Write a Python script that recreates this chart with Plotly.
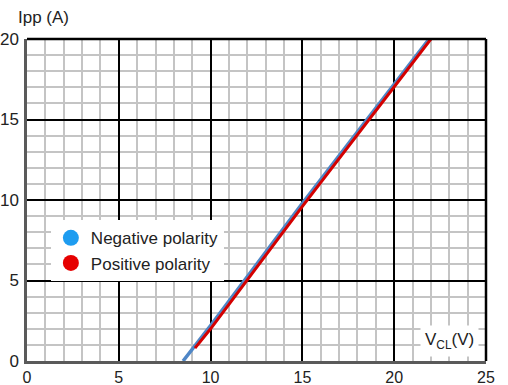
import plotly.graph_objects as go

# clamping voltage V_CL (V) vs peak pulse current Ipp (A)
neg_vcl = [8.5, 10.0, 15.0, 20.0, 21.9]
neg_ipp = [0.0, 2.2, 9.8, 17.2, 20.0]
pos_vcl = [9.15, 10.0, 15.0, 20.0, 22.0]
pos_ipp = [0.8, 2.0, 9.6, 17.0, 20.0]

legend_names = ["Negative polarity", "Positive polarity"]
legend_colors = ["#1e9cf0", "#e60000"]

x_ticks = [0, 5, 10, 15, 20, 25]
y_ticks = [0, 5, 10, 15, 20]

FONT = "Liberation Sans, Arial, sans-serif"

fig = go.Figure()

fig.add_trace(go.Scatter(
    x=neg_vcl, y=neg_ipp, mode="lines",
    line=dict(color="#4f86c6", width=3.5), showlegend=False,
))
fig.add_trace(go.Scatter(
    x=pos_vcl, y=pos_ipp, mode="lines",
    line=dict(color="#d40000", width=3), showlegend=False,
))

# legend entries shown as filled circles
for name, color in zip(legend_names, legend_colors):
    fig.add_trace(go.Scatter(
        x=[None], y=[None], mode="markers", name=name,
        marker=dict(color=color, size=16),
    ))

axis_common = dict(
    showgrid=True,
    gridcolor="black",
    gridwidth=2,
    zeroline=False,
    showline=True,
    linecolor="#5a5a5a",
    linewidth=2.5,
    ticks="",
    automargin=False,
    minor=dict(dtick=1, showgrid=True, gridcolor="#c4c4c4", gridwidth=2),
)

fig.update_xaxes(range=[0, 25], tickvals=x_ticks, ticklabelstandoff=0,
                 tickfont=dict(family=FONT, size=16, color="#222"), **axis_common)
fig.update_yaxes(range=[0, 20], tickvals=y_ticks, ticklabelstandoff=2,
                 tickfont=dict(family=FONT, size=17, color="#222"), **axis_common)

# black frame on top and right
fig.add_shape(type="line", xref="paper", yref="paper", x0=0, x1=1, y0=1, y1=1,
              line=dict(color="black", width=2.5))
fig.add_shape(type="line", xref="paper", yref="paper", x0=1, x1=1, y0=0, y1=1,
              line=dict(color="black", width=2.5))

fig.add_annotation(
    text="Ipp (A)", xref="paper", yref="paper", x=-0.025, y=1.03,
    xanchor="left", yanchor="bottom", showarrow=False,
    font=dict(family=FONT, size=17, color="#222"),
)
fig.add_annotation(
    text="V<sub>CL</sub>(V)", x=23.0, y=1.25, showarrow=False,
    bgcolor="white", borderpad=4,
    font=dict(family=FONT, size=17, color="#222"),
)

fig.update_layout(
    width=508, height=385,
    margin=dict(l=27, r=22, t=39, b=24),
    paper_bgcolor="white",
    plot_bgcolor="white",
    font=dict(family=FONT, color="#222"),
    legend=dict(
        x=0.052, y=0.437, xanchor="left", yanchor="top",
        bgcolor="white", borderwidth=0,
        font=dict(family=FONT, size=17, color="#222"),
        tracegroupgap=0,
    ),
)

# drop the browser's default page margin so the figure sits at the corner
fig.write_html(
    "out.html",
    config={"displayModeBar": False},
    post_script="document.body.style.margin='0';",
)
